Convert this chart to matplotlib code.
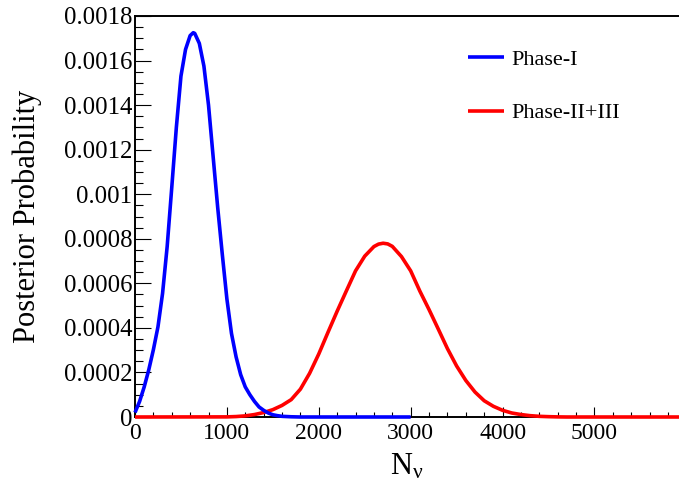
import matplotlib
matplotlib.use("Agg")
import matplotlib.pyplot as plt
from matplotlib.ticker import MultipleLocator, FuncFormatter

plt.rcParams["font.family"] = ["Liberation Serif", "DejaVu Serif"]
plt.rcParams["mathtext.fontset"] = "custom"
plt.rcParams["mathtext.rm"] = "Liberation Serif"
plt.rcParams["mathtext.it"] = "Liberation Serif:italic"

# Phase-I posterior, values
n1 = [0, 50, 100, 150, 200, 250, 300, 350, 400, 450, 500, 550, 600, 634,
      650, 700, 750, 800, 850, 900, 950, 1000, 1050, 1100, 1150, 1200,
      1250, 1300, 1350, 1400, 1450, 1500, 1550, 1600, 1700, 1800, 2000,
      2500, 3000]
p1 = [0.00002, 0.00007, 0.000135, 0.000212, 0.000302, 0.000405, 0.000555,
      0.000765, 0.00103, 0.0013, 0.00153, 0.00165, 0.001712, 0.001725,
      0.001722, 0.001677, 0.001575, 0.0014, 0.00117, 0.00094, 0.00073,
      0.00053, 0.000375, 0.00027, 0.00019, 0.000135, 0.0001, 0.00007,
      0.000045, 0.00003, 0.000018, 0.00001, 0.000006, 0.000003, 0.000001,
      0.0, 0.0, 0.0, 0.0]

# Phase-II+III posterior
n23 = [0, 1000, 1100, 1200, 1300, 1400, 1500, 1600, 1700, 1800, 1900, 2000,
       2100, 2200, 2300, 2400, 2500, 2600, 2650, 2700, 2750, 2800, 2900,
       3000, 3100, 3200, 3300, 3400, 3500, 3600, 3700, 3800, 3900, 4000,
       4100, 4200, 4300, 4400, 4500, 4600, 4700, 5920]
p23 = [0.0, 0.0000005, 0.000002, 0.000005, 0.000011, 0.00002, 0.000033,
       0.000052, 0.000078, 0.000125, 0.000196, 0.000283, 0.00038, 0.000475,
       0.000566, 0.000656, 0.000722, 0.000765, 0.000776, 0.00078, 0.000777,
       0.000766, 0.00072, 0.000656, 0.000565, 0.000482, 0.000395, 0.000307,
       0.000229, 0.000164, 0.000112, 0.000073, 0.000048, 0.00003, 0.000018,
       0.000011, 0.000006, 0.000003, 0.0000015, 0.0000005, 0.0, 0.0]

labels = ["Phase-I", "Phase-II+III"]

fig = plt.figure(figsize=(6.79, 4.83), dpi=100)
ax = fig.add_axes([135 / 679, 66 / 483, 544 / 679, 401 / 483])

l2, = ax.plot(n23, p23, color="#ff0000", lw=2.6, clip_on=False, zorder=3,
              solid_capstyle="butt", solid_joinstyle="round")
l1, = ax.plot(n1, p1, color="#0000ff", lw=2.6, clip_on=False, zorder=4,
              solid_capstyle="butt", solid_joinstyle="round")

ax.set_xlim(0, 5920)
ax.set_ylim(0, 0.0018)
ax.spines["right"].set_visible(False)
for s in ["left", "top", "bottom"]:
    ax.spines[s].set_linewidth(1.4)

ax.xaxis.set_major_locator(MultipleLocator(1000))
ax.xaxis.set_minor_locator(MultipleLocator(200))
ax.yaxis.set_major_locator(MultipleLocator(0.0002))
ax.yaxis.set_minor_locator(MultipleLocator(0.00005))
ax.yaxis.set_major_formatter(FuncFormatter(lambda v, p: "%g" % round(v, 6)))

ax.tick_params(axis="both", which="both", direction="in", labelsize=17,
               width=0.8, top=False, right=False)
ax.tick_params(axis="y", which="major", length=11.5, pad=2, labelsize=17.8)
ax.tick_params(axis="y", which="minor", length=5.8)
ax.tick_params(axis="x", which="major", length=7, pad=4)
ax.tick_params(axis="x", which="minor", length=3.6)

ax.set_ylabel("Posterior Probability", fontsize=22)
ax.yaxis.set_label_coords(-0.171, 0.5)
ax.set_xlabel(r"N$_{\mathrm{\nu}}$", fontsize=22)
ax.xaxis.set_label_coords(0.5, -0.088)

ax.legend([l1, l2], labels, loc="upper left",
          bbox_to_anchor=(468 / 679, 1 - 49 / 483),
          bbox_transform=fig.transFigure, frameon=False, fontsize=16,
          handlelength=1.6, handletextpad=0.35, labelspacing=1.5,
          borderpad=0, borderaxespad=0)

fig.savefig("out.png", dpi=100)
